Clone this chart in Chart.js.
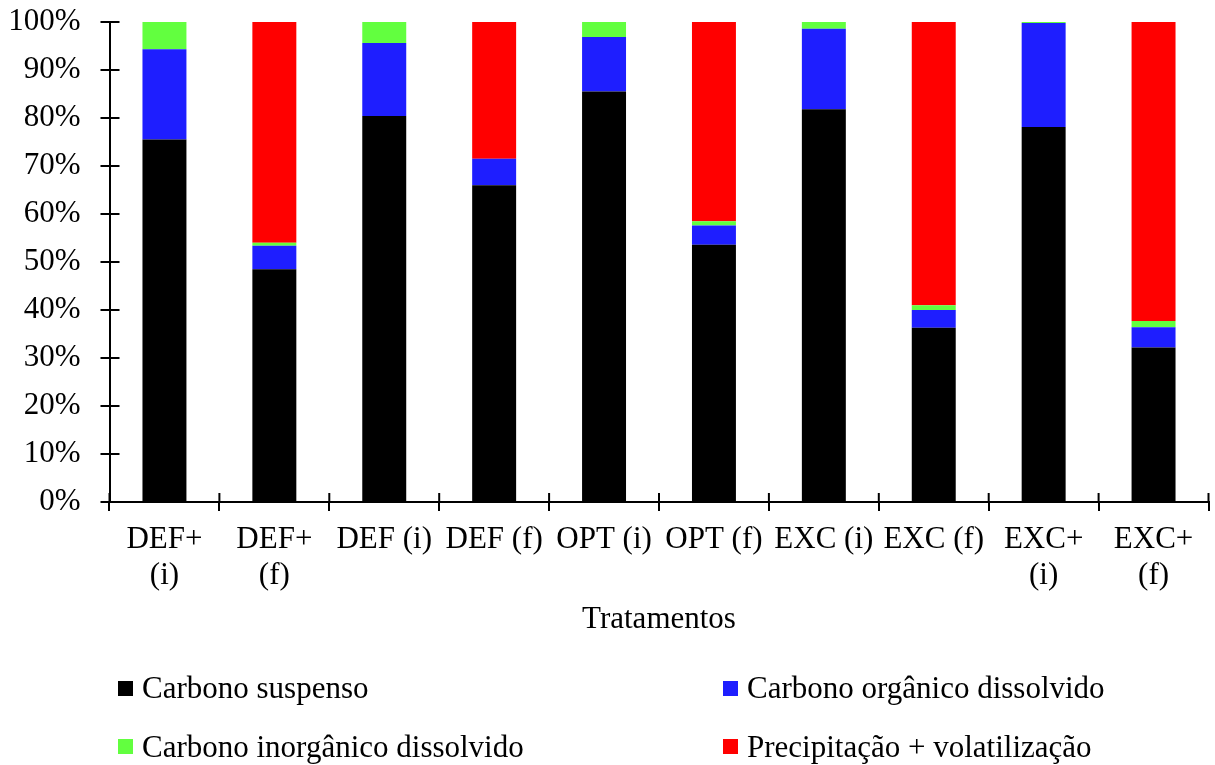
<!DOCTYPE html>
<html>
<head>
<meta charset="utf-8">
<script src="https://cdn.jsdelivr.net/npm/chart.js@4/dist/chart.umd.min.js"></script>
<style>
  html, body { margin: 0; padding: 0; background: #fff; }
  #wrap { position: relative; width: 1215px; height: 765px; }
  #legend { position: absolute; left: 0; top: 0; width: 1215px; height: 765px; pointer-events: none;
            font-family: "Liberation Serif", "Times New Roman", serif; font-size: 31px; color: #000; }
  .lg-box { position: absolute; width: 15px; height: 15px; }
  .lg-text { position: absolute; line-height: 31px; white-space: nowrap; }
</style>
</head>
<body>
<div id="wrap">
  <canvas id="carbonChart" width="1215" height="765"></canvas>
  <div id="legend"></div>
</div>
<script>
const categories = [['DEF+', '(i)'], ['DEF+', '(f)'], 'DEF (i)', 'DEF (f)', 'OPT (i)', 'OPT (f)', 'EXC (i)', 'EXC (f)', ['EXC+', '(i)'], ['EXC+', '(f)']];
const suspenso   = [75.5, 48.5, 80.4, 66.0, 85.5, 53.6, 81.8, 36.3, 78.1, 32.2];
const organico   = [18.8, 4.9, 15.2, 5.5, 11.4, 4.0, 16.8, 3.7, 21.7, 4.2];
const inorganico = [5.7, 0.6, 4.4, 0.0, 3.1, 0.9, 1.4, 1.0, 0.2, 1.3];
const precipVol  = [0, 46.0, 0, 28.5, 0, 41.5, 0, 59.0, 0, 62.3];
const yTicks = [0, 10, 20, 30, 40, 50, 60, 70, 80, 90, 100];

const serif = '"Liberation Serif", "Times New Roman", serif';

// tick marks that cross the axis (Chart.js only draws the outside half)
const innerTicks = {
    id: 'innerTicks',
    afterDraw(chart) {
        const ctx = chart.ctx;
        const xs = chart.scales.x;
        const ys = chart.scales.y;
        const area = chart.chartArea;
        ctx.save();
        ctx.strokeStyle = '#000';
        ctx.lineWidth = 2;
        ctx.beginPath();
        yTicks.forEach(v => {
            const y = ys.getPixelForValue(v);
            ctx.moveTo(area.left, y);
            ctx.lineTo(area.left + 10, y);
        });
        const n = categories.length;
        for (let i = 0; i <= n; i++) {
            const x = xs.left + i * xs.width / n;
            ctx.moveTo(x, area.bottom);
            ctx.lineTo(x, area.bottom - 9);
        }
        ctx.stroke();
        ctx.restore();
    }
};

const chart = new Chart(document.getElementById('carbonChart'), {
    type: 'bar',
    data: {
        labels: categories,
        datasets: [
            { label: 'Carbono suspenso', data: suspenso, backgroundColor: '#000000' },
            { label: 'Carbono orgânico dissolvido', data: organico, backgroundColor: '#1E1EFF' },
            { label: 'Carbono inorgânico dissolvido', data: inorganico, backgroundColor: '#62FF3F' },
            { label: 'Precipitação + volatilização', data: precipVol, backgroundColor: '#FF0000' }
        ]
    },
    options: {
        responsive: false,
        animation: false,
        datasets: { bar: { categoryPercentage: 1, barPercentage: 0.4 } },
        layout: { padding: { left: 0, top: 22, right: 6.5, bottom: 125 } },
        plugins: {
            legend: { display: false },
            tooltip: { enabled: false }
        },
        scales: {
            x: {
                stacked: true,
                afterFit: s => { s.height = 138; s.paddingLeft = 0; s.paddingRight = 0; },
                border: { color: '#000', width: 2 },
                grid: { offset: true, drawOnChartArea: false, drawTicks: true, tickLength: 9, color: '#000', lineWidth: 2 },
                ticks: { color: '#000', padding: 11, maxRotation: 0, autoSkip: false,
                         font: { family: serif, size: 31, lineHeight: 1.15 } },
                title: { display: true, text: 'Tratamentos', color: '#000', padding: { top: 0, bottom: 2 },
                         font: { family: serif, size: 31, lineHeight: 1.2 } }
            },
            y: {
                stacked: true,
                min: 0,
                max: 100,
                afterFit: s => { s.width = 109.5; s.paddingTop = 0; s.paddingBottom = 0; },
                afterBuildTicks: s => { s.ticks = yTicks.map(v => ({ value: v })); },
                border: { color: '#000', width: 2 },
                grid: { drawOnChartArea: false, drawTicks: true, tickLength: 9, color: '#000', lineWidth: 2 },
                ticks: { color: '#000', padding: 20, callback: v => v + '%',
                         font: { family: serif, size: 31, lineHeight: 1.2 } }
            }
        }
    },
    plugins: [innerTicks]
});

// two-column legend built from the datasets
const legendPos = [
    { box: [118, 681], text: [142, 672] },
    { box: [723, 681], text: [747, 672] },
    { box: [118, 739], text: [142, 731] },
    { box: [723, 739], text: [747, 731] }
];
const legendEl = document.getElementById('legend');
chart.data.datasets.forEach((ds, i) => {
    const p = legendPos[i];
    const box = document.createElement('div');
    box.className = 'lg-box';
    box.style.left = p.box[0] + 'px';
    box.style.top = p.box[1] + 'px';
    box.style.background = ds.backgroundColor;
    const txt = document.createElement('div');
    txt.className = 'lg-text';
    txt.style.left = p.text[0] + 'px';
    txt.style.top = p.text[1] + 'px';
    txt.textContent = ds.label;
    legendEl.appendChild(box);
    legendEl.appendChild(txt);
});
</script>
</body>
</html>
